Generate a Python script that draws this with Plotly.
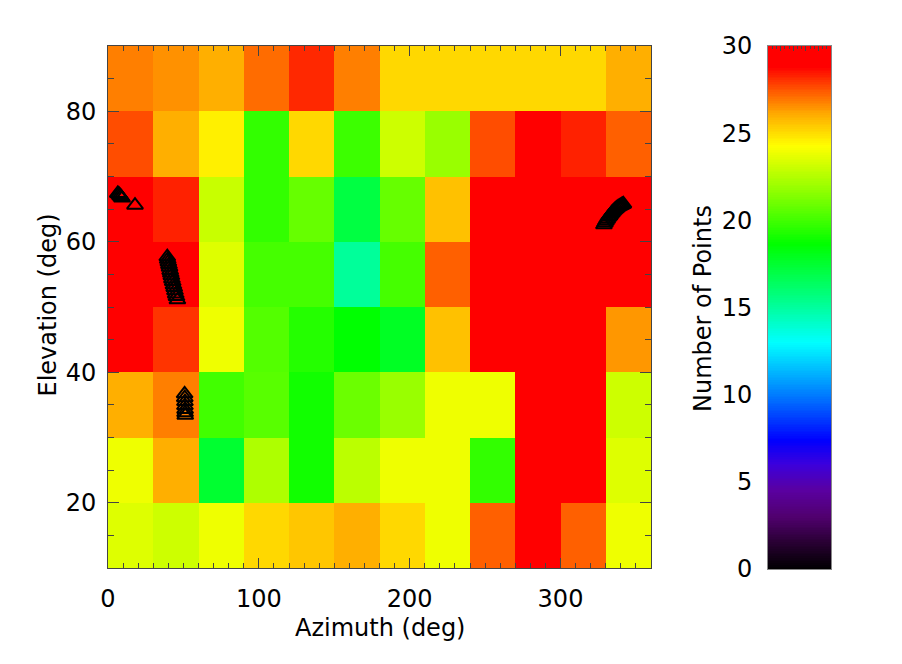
import numpy as np
import plotly.graph_objects as go

# ---- data ----
azimuth_bins = [15, 45, 75, 105, 135, 165, 195, 225, 255, 285, 315, 345]
elevation_bins = [15, 25, 35, 45, 55, 65, 75, 85]
# counts per cell, rows from elevation 10-20 (bottom) to 80-90 (top)
counts = [
    [23.5, 23.1, 23.9, 25.1, 25.5, 26.0, 25.1, 23.9, 27.3, 30.0, 27.3, 23.9],
    [23.9, 26.0, 17.5, 22.4, 19.0, 22.7, 23.9, 23.9, 19.7, 30.0, 30.0, 23.5],
    [26.0, 26.8, 20.0, 20.5, 19.0, 20.9, 21.9, 23.9, 23.9, 30.0, 30.0, 23.1],
    [30.0, 28.0, 23.9, 20.4, 19.4, 18.6, 17.8, 25.6, 30.0, 30.0, 30.0, 26.4],
    [30.0, 30.0, 23.5, 20.1, 20.1, 15.1, 20.1, 27.3, 30.0, 30.0, 30.0, 30.0],
    [30.0, 28.3, 23.0, 19.7, 20.8, 17.1, 20.8, 25.6, 30.0, 30.0, 30.0, 30.0],
    [27.6, 26.0, 24.6, 19.7, 25.1, 19.9, 23.1, 21.9, 27.6, 30.0, 28.3, 27.3],
    [26.8, 26.5, 26.0, 27.1, 28.2, 26.8, 25.1, 25.1, 25.1, 25.1, 25.1, 26.0],
]
# track points (azimuth, elevation)
track_az = [6.5, 7.2, 7.9, 8.6, 9.3, 17.9,
            39.3, 39.6, 40.0, 40.4, 40.8, 41.2, 41.6, 42.0, 42.4, 42.9, 43.4, 43.9, 44.4, 44.9, 45.4, 46.0,
            50.8, 50.9, 51.0, 51.0, 51.1, 51.1, 51.2,
            328.8, 329.5, 330.2, 331.0, 331.8, 332.6, 333.4, 334.2, 335.0, 335.8, 336.6, 337.4, 338.2,
            339.0, 339.8, 340.5, 341.1, 341.7]
track_el = [67.4, 67.3, 67.1, 66.9, 66.7, 65.6,
            57.7, 57.3, 56.9, 56.5, 56.1, 55.6, 55.2, 54.8, 54.3, 53.9, 53.4, 53.0, 52.5, 52.0, 51.6, 51.1,
            36.7, 36.1, 35.5, 34.9, 34.3, 33.8, 33.4,
            62.6, 62.9, 63.2, 63.5, 63.8, 64.0, 64.25, 64.5, 64.7, 64.9, 65.05, 65.2, 65.35,
            65.45, 65.55, 65.65, 65.72, 65.8]
cbar_ticks = [0, 5, 10, 15, 20, 25, 30]

colorscale = [
    [0.00, "rgb(0,0,0)"],
    [0.05, "rgb(40,0,50)"],
    [0.10, "rgb(80,0,110)"],
    [0.15, "rgb(90,0,160)"],
    [0.20, "rgb(60,0,220)"],
    [0.246, "rgb(0,0,255)"],
    [0.33, "rgb(0,120,255)"],
    [0.433, "rgb(0,255,255)"],
    [0.52, "rgb(0,255,130)"],
    [0.621, "rgb(0,255,0)"],
    [0.72, "rgb(140,255,0)"],
    [0.809, "rgb(255,255,0)"],
    [0.87, "rgb(255,170,0)"],
    [0.94, "rgb(255,40,0)"],
    [0.96, "rgb(255,0,0)"],
    [1.00, "rgb(255,0,0)"],
]

FONT = "DejaVu Sans"
FS = 24
W, H = 902, 664
def px(x): return x / W
def py(y): return 1 - y / H

fig = go.Figure()
fig.add_trace(go.Heatmap(
    x=azimuth_bins, y=elevation_bins, z=counts,
    colorscale=colorscale, zmin=0, zmax=30, showscale=False,
    xaxis="x", yaxis="y", hoverinfo="skip",
))
fig.add_trace(go.Scatter(
    x=track_az, y=track_el, mode="markers",
    marker=dict(symbol="triangle-up-open", size=14, color="black",
                line=dict(width=2, color="black")),
    xaxis="x", yaxis="y", showlegend=False,
))
cb_vals = np.linspace(0, 30, 301)
fig.add_trace(go.Heatmap(
    x=[0.5], y=cb_vals, z=[[v] for v in cb_vals],
    colorscale=colorscale, zmin=0, zmax=30, showscale=False,
    xaxis="x2", yaxis="y2", hoverinfo="skip",
))

axcol = "#444444"
fig.update_layout(
    template="none",
    width=W, height=H,
    margin=dict(l=0, r=0, t=0, b=0, autoexpand=False),
    paper_bgcolor="white", plot_bgcolor="white",
    showlegend=False,
    font=dict(family=FONT, color="black", size=FS),
    xaxis=dict(domain=[px(100), px(643)], range=[0, 360], anchor="y", automargin=False,
               tickmode="array", tickvals=[0, 100, 200, 300],
               ticks="inside", ticklen=10, tickcolor=axcol, tickwidth=1,
               minor=dict(dtick=10, tick0=0, ticks="inside", ticklen=5, tickcolor=axcol),
               showline=True, linecolor=axcol, linewidth=1, mirror="allticks",
               showgrid=False, zeroline=False, ticklabelstandoff=9,
               tickfont=dict(size=FS)),
    yaxis=dict(domain=[py(560), py(38)], range=[10, 90], anchor="x", automargin=False,
               tickmode="array", tickvals=[20, 40, 60, 80],
               ticks="inside", ticklen=11, tickcolor=axcol, tickwidth=1,
               minor=dict(dtick=5, tick0=0, ticks="inside", ticklen=6, tickcolor=axcol),
               showline=True, linecolor=axcol, linewidth=1, mirror="allticks",
               showgrid=False, zeroline=False, ticklabelstandoff=6,
               tickfont=dict(size=FS)),
    xaxis2=dict(domain=[px(760), px(823)], range=[0, 1], anchor="y2", side="top", automargin=False,
                tickmode="linear", tick0=0, dtick=0.2, ticks="inside", ticklen=5,
                tickcolor=axcol, showticklabels=False,
                minor=dict(dtick=0.0667, ticks="inside", ticklen=3, tickcolor=axcol),
                showline=True, linecolor="#888888", linewidth=1, mirror=True,
                showgrid=False, zeroline=False),
    yaxis2=dict(domain=[py(561), py(38)], range=[0, 30], anchor="x2", side="left", automargin=False,
                tickmode="array", tickvals=cbar_ticks, ticks="",
                showline=True, linecolor="#888888", linewidth=1, mirror=True,
                showgrid=False, zeroline=False, ticklabelstandoff=10,
                tickfont=dict(size=FS)),
    annotations=[
        dict(text="Azimuth (deg)", x=px(371.5), y=py(620), xref="paper", yref="paper",
             showarrow=False, font=dict(size=FS), xanchor="center", yanchor="middle"),
        dict(text="Elevation (deg)", x=px(39), y=py(297.5), xref="paper", yref="paper",
             showarrow=False, font=dict(size=FS), textangle=-90,
             xanchor="center", yanchor="middle"),
        dict(text="Number of Points", x=px(695), y=py(301), xref="paper", yref="paper",
             showarrow=False, font=dict(size=FS), textangle=-90,
             xanchor="center", yanchor="middle"),
    ],
)

fig.write_html("out.html")
